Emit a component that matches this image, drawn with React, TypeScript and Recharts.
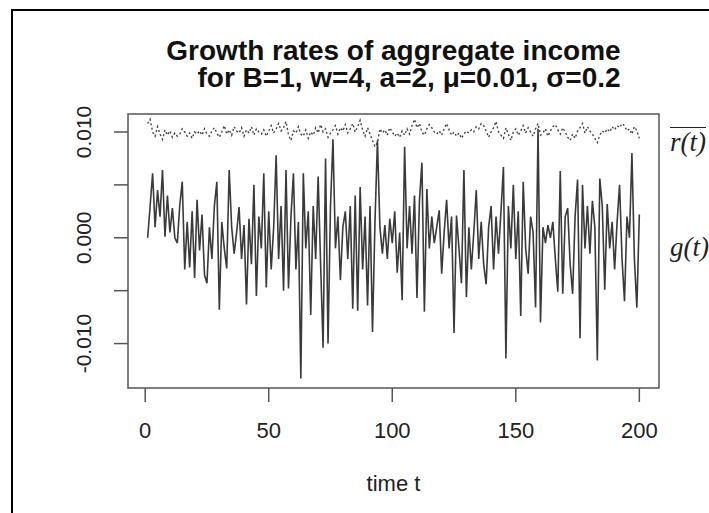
import React from "react";
import { LineChart, Line, XAxis, YAxis, ReferenceArea } from "recharts";

const TIME: number[] = Array.from({ length: 200 }, (_, i) => i + 1);

const G_VALUES: number[] = [
  0.0000, 0.0030, 0.0061, 0.0010, 0.0045, 0.0020, 0.0064, 0.0001, 0.0040, 0.0005,
  0.0028, 0.0000, -0.0005, 0.0031, 0.0053, -0.0030, 0.0015, -0.0028, 0.0025, -0.0038,
  0.0036, -0.0012, 0.0022, -0.0035, -0.0043, 0.0010, -0.0020, 0.0030, 0.0053, -0.0068,
  0.0015, -0.0010, -0.0029, 0.0064, 0.0010, -0.0015, 0.0005, 0.0029, -0.0020, 0.0012,
  -0.0063, 0.0018, -0.0025, 0.0050, -0.0055, 0.0020, -0.0010, 0.0061, -0.0047, 0.0025,
  -0.0030, 0.0010, 0.0078, -0.0020, 0.0030, -0.0050, 0.0064, -0.0048, 0.0020, 0.0061,
  -0.0030, 0.0015, -0.0133, 0.0061, -0.0010, 0.0025, -0.0073, 0.0030, -0.0020, 0.0058,
  -0.0025, -0.0104, 0.0075, -0.0100, 0.0030, 0.0093, -0.0010, 0.0020, -0.0040, 0.0010,
  0.0025, -0.0020, 0.0030, -0.0067, 0.0040, -0.0069, 0.0048, -0.0030, 0.0020, -0.0064,
  0.0030, -0.0089, 0.0015, 0.0092, 0.0010, -0.0015, 0.0012, -0.0020, 0.0018, -0.0005,
  0.0025, -0.0033, 0.0005, -0.0059, 0.0086, -0.0010, 0.0030, -0.0015, 0.0040, -0.0057,
  0.0035, 0.0071, -0.0070, 0.0046, -0.0010, 0.0020, -0.0005, 0.0010, 0.0026, -0.0034,
  0.0005, 0.0036, -0.0010, 0.0020, -0.0090, 0.0021, -0.0010, -0.0043, 0.0064, -0.0056,
  0.0010, -0.0030, 0.0005, 0.0045, -0.0020, 0.0015, -0.0025, -0.0044, 0.0010, 0.0030,
  -0.0030, 0.0020, -0.0015, 0.0025, 0.0067, -0.0114, 0.0030, -0.0010, 0.0050, -0.0020,
  0.0025, -0.0074, 0.0053, -0.0010, -0.0034, 0.0020, 0.0005, -0.0066, 0.0103, -0.0080,
  0.0010, -0.0005, 0.0012, 0.0000, 0.0015, -0.0020, -0.0051, 0.0063, -0.0053, 0.0020,
  0.0028, -0.0025, -0.0053, 0.0020, 0.0055, -0.0095, 0.0050, -0.0010, 0.0030, -0.0015,
  0.0035, 0.0010, -0.0116, 0.0056, 0.0030, -0.0049, 0.0032, -0.0010, 0.0015, -0.0030,
  0.0015, 0.0050, -0.0020, -0.0060, 0.0020, 0.0000, 0.0080, -0.0020, -0.0066, 0.0022,
];

const R_VALUES: number[] = [
  0.0108, 0.0112, 0.0100, 0.0096, 0.0105, 0.0098, 0.0093, 0.0102, 0.0097, 0.0101,
  0.0095, 0.0099, 0.0096, 0.0098, 0.0103, 0.0100, 0.0096, 0.0099, 0.0094, 0.0100,
  0.0098, 0.0101, 0.0097, 0.0103, 0.0098, 0.0096, 0.0101, 0.0104, 0.0099, 0.0095,
  0.0100, 0.0106, 0.0098, 0.0102, 0.0097, 0.0105, 0.0101, 0.0099, 0.0104, 0.0096,
  0.0102, 0.0099, 0.0105, 0.0097, 0.0103, 0.0100, 0.0098, 0.0102, 0.0096, 0.0101,
  0.0106, 0.0099, 0.0103, 0.0108, 0.0101, 0.0104, 0.0110, 0.0097, 0.0092, 0.0101,
  0.0099, 0.0105, 0.0098, 0.0096, 0.0102, 0.0094, 0.0100, 0.0097, 0.0104, 0.0099,
  0.0107, 0.0100, 0.0103, 0.0095, 0.0099, 0.0102, 0.0106, 0.0098, 0.0104, 0.0101,
  0.0107, 0.0099, 0.0103, 0.0108, 0.0100, 0.0105, 0.0111, 0.0102, 0.0096, 0.0104,
  0.0098, 0.0092, 0.0086, 0.0090, 0.0103, 0.0099, 0.0102, 0.0097, 0.0104, 0.0100,
  0.0096, 0.0099, 0.0095, 0.0101, 0.0097, 0.0103, 0.0098, 0.0106, 0.0112, 0.0104,
  0.0108, 0.0100, 0.0097, 0.0103, 0.0107, 0.0104, 0.0100, 0.0098, 0.0101, 0.0097,
  0.0103, 0.0108, 0.0102, 0.0097, 0.0100, 0.0096, 0.0099, 0.0094, 0.0098, 0.0101,
  0.0099, 0.0102, 0.0100, 0.0105, 0.0103, 0.0108, 0.0106, 0.0101, 0.0095, 0.0100,
  0.0104, 0.0110, 0.0100, 0.0097, 0.0094, 0.0104, 0.0098, 0.0092, 0.0100, 0.0103,
  0.0097, 0.0101, 0.0106, 0.0099, 0.0104, 0.0100, 0.0096, 0.0103, 0.0108, 0.0097,
  0.0099, 0.0103, 0.0096, 0.0101, 0.0105, 0.0107, 0.0102, 0.0098, 0.0104, 0.0100,
  0.0095, 0.0092, 0.0098, 0.0094, 0.0101, 0.0104, 0.0108, 0.0099, 0.0105, 0.0101,
  0.0098, 0.0094, 0.0090, 0.0097, 0.0101, 0.0099, 0.0103, 0.0100, 0.0105, 0.0102,
  0.0106, 0.0104, 0.0108, 0.0106, 0.0101, 0.0103, 0.0098, 0.0105, 0.0101, 0.0094,
];

const X_TICKS: number[] = [0, 50, 100, 150, 200];
const Y_TICKS: number[] = [-0.01, -0.005, 0, 0.005, 0.01];
const Y_TICK_LABELS: Record<string, string> = { "-0.01": "-0.010", "0": "0.000", "0.01": "0.010" };

const TITLE_LINE_1 = "Growth rates of aggregate income";
const TITLE_LINE_2 = "    for B=1, w=4, a=2, \u03bc=0.01, \u03c3=0.2";
const X_LABEL = "time t";

const X_DOMAIN: [number, number] = [-6.96, 207.96];
const Y_DOMAIN: [number, number] = [-0.0142, 0.0117];

const data = TIME.map((t, i) => ({ t, g: G_VALUES[i], r: R_VALUES[i] }));

const FONT = "'Liberation Sans', Arial, sans-serif";
const SERIF = "'Liberation Serif', 'DejaVu Serif', serif";

const XTick = (props: any) => {
  const { x, y, payload } = props;
  return (
    <text x={x} y={y + 36} textAnchor="middle" fontFamily={FONT} fontSize={22} fill="#222">
      {String(payload.value)}
    </text>
  );
};

const YTick = (props: any) => {
  const { x, y, payload } = props;
  const label = Y_TICK_LABELS[String(payload.value)];
  if (!label) return <g />;
  const bx = x - 23;
  return (
    <text x={bx} y={y} textAnchor="middle" fontFamily={FONT} fontSize={21} fill="#222" transform={`rotate(-90, ${bx}, ${y})`}>
      {label}
    </text>
  );
};

const XLabel = (props: any) => {
  const vb = props.viewBox || {};
  return (
    <text x={vb.x + vb.width / 2} y={vb.y + 103} textAnchor="middle" fontFamily={FONT} fontSize={22} fill="#222">
      {X_LABEL}
    </text>
  );
};

export default function App() {
  return (
    <div style={{ position: "absolute", left: 0, top: 0, width: 709, height: 513, background: "#fff", overflow: "hidden" }}>
      <div style={{ position: "absolute", left: 11, top: 9, width: 720, height: 520, borderLeft: "2px solid #000", borderTop: "2px solid #000" }} />
      <LineChart width={709} height={513} data={data} margin={{ top: 114, right: 50, bottom: 65, left: 68 }}>
        <XAxis
          dataKey="t"
          type="number"
          domain={X_DOMAIN}
          ticks={X_TICKS}
          allowDataOverflow
          axisLine={false}
          tickLine={{ stroke: "#555", strokeWidth: 1.5 }}
          tickSize={14}
          tickMargin={0}
          height={60}
          tick={<XTick />}
          label={<XLabel />}
        />
        <YAxis
          type="number"
          domain={Y_DOMAIN}
          ticks={Y_TICKS}
          allowDataOverflow
          axisLine={false}
          tickLine={{ stroke: "#555", strokeWidth: 1.5 }}
          tickSize={14}
          tickMargin={0}
          width={60}
          tick={<YTick />}
        />
        <ReferenceArea x1={X_DOMAIN[0]} x2={X_DOMAIN[1]} y1={Y_DOMAIN[0]} y2={Y_DOMAIN[1]} fill="none" fillOpacity={0} stroke="#555" strokeWidth={1.5} ifOverflow="visible" />
        <Line dataKey="r" type="linear" stroke="#444" strokeWidth={1.4} strokeDasharray="2 2.5" dot={false} isAnimationActive={false} />
        <Line dataKey="g" type="linear" stroke="#3a3a3a" strokeWidth={1.6} dot={false} isAnimationActive={false} />
      </LineChart>
      <div style={{ position: "absolute", left: 0, top: 37, width: 787, textAlign: "center", fontFamily: FONT, fontWeight: "bold", fontSize: 28, lineHeight: "27px", whiteSpace: "pre", color: "#111" }}>
        {TITLE_LINE_1 + "\n" + TITLE_LINE_2}
      </div>
      <div style={{ position: "absolute", left: 670, top: 127, fontFamily: SERIF, fontStyle: "italic", fontSize: 27, lineHeight: "29px", whiteSpace: "nowrap", color: "#222", borderTop: "1.5px solid #222" }}>
        r(t)
      </div>
      <div style={{ position: "absolute", left: 670, top: 233, fontFamily: SERIF, fontStyle: "italic", fontSize: 27, lineHeight: "29px", whiteSpace: "nowrap", color: "#222" }}>
        g(t)
      </div>
    </div>
  );
}
